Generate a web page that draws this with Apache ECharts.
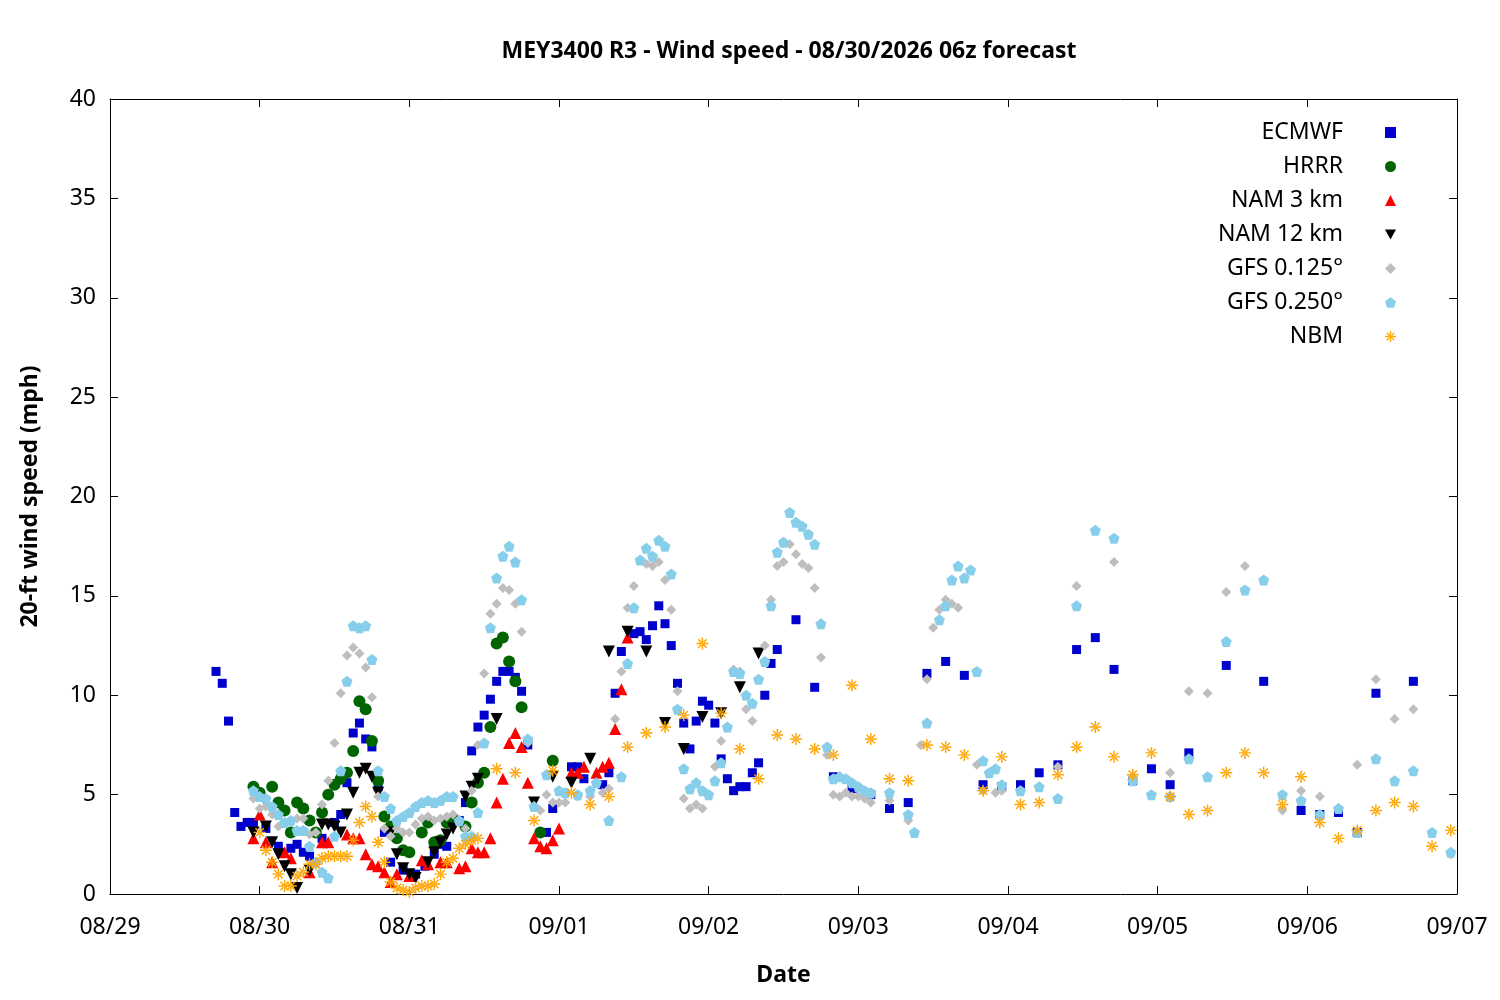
<!DOCTYPE html>
<html>
<head>
<meta charset="utf-8">
<script src="https://cdn.jsdelivr.net/npm/echarts@6/dist/echarts.min.js"></script>
<style>html,body{margin:0;padding:0;background:#fff}#main{width:1500px;height:1000px}</style>
</head>
<body>
<div id="main"></div>
<script>
// hours since 08/29 00z, wind speed (mph)
const dateLabels = ['08/29','08/30','08/31','09/01','09/02','09/03','09/04','09/05','09/06','09/07'];

const ecmwf = [[17,11.2],[18,10.6],[19,8.7],[20,4.1],[21,3.4],[22,3.6],[23,3.6],[25,3.3],[27,2.4],[29,2.3],[30,2.5],[31,2.1],[32,1.9],[34,2.8],[36,3.6],[37,4.0],[38,5.6],[39,8.1],[40,8.6],[41,7.8],[42,7.4],[43,5.4],[44,3.1],[45,1.6],[47,1.2],[49,1.0],[50.5,1.4],[52,2.0],[53,2.5],[54,2.4],[56,3.7],[57,4.6],[58,7.2],[59,8.4],[60,9.0],[61,9.8],[62,10.7],[63,11.2],[64,11.2],[65,10.9],[66,10.2],[67,7.5],[70,3.1],[71,4.3],[74,6.4],[75,6.4],[76,5.8],[79,5.5],[80,6.1],[81,10.1],[82,12.2],[84,13.1],[85,13.2],[86,12.8],[87,13.5],[88,14.5],[89,13.6],[90,12.5],[91,10.6],[92,8.6],[93,7.3],[94,8.7],[95,9.7],[96,9.5],[97,8.6],[98,6.8],[99,5.8],[100,5.2],[101,5.4],[102,5.4],[103,6.1],[104,6.6],[105,10.0],[106,11.6],[107,12.3],[110,13.8],[113,10.4],[116,5.9],[119,5.3],[122,5.0],[125,4.3],[128,4.6],[131,11.1],[134,11.7],[137,11.0],[140,5.5],[143,5.4],[146,5.5],[149,6.1],[152,6.5],[155,12.3],[158,12.9],[161,11.3],[164,5.7],[167,6.3],[170,5.5],[173,7.1],[179,11.5],[185,10.7],[191,4.2],[194,4.0],[197,4.1],[200,3.1],[203,10.1],[209,10.7]];

const hrrr = [[23,5.4],[24,5.1],[26,5.4],[27,4.6],[28,4.2],[29,3.1],[30,4.6],[31,4.3],[32,3.7],[33,3.1],[34,4.1],[35,5.0],[36,5.5],[37,5.8],[38,6.1],[39,7.2],[40,9.7],[41,9.3],[42,7.7],[43,5.7],[44,3.9],[45,3.4],[46,2.8],[47,2.2],[48,2.1],[50,3.1],[51,3.6],[52,2.6],[53,2.7],[54,3.6],[55,3.8],[57,3.4],[58,4.6],[59,5.6],[60,6.1],[61,8.4],[62,12.6],[63,12.9],[64,11.7],[65,10.7],[66,9.4],[69,3.1],[71,6.7]];

const nam3 = [[23,2.8],[24,4.0],[25,2.6],[26,1.6],[28,2.1],[29,1.8],[32,1.1],[34,2.6],[35,2.6],[38,3.0],[39,2.8],[40,2.8],[41,2.0],[42,1.5],[43,1.4],[44,1.1],[45,0.6],[46,1.0],[48,0.9],[50,1.7],[51,1.5],[53,1.6],[54,1.6],[56,1.3],[57,1.4],[58,2.3],[59,2.1],[60,2.1],[61,2.8],[62,4.6],[63,5.8],[64,7.6],[65,8.1],[66,7.4],[67,5.6],[68,2.8],[69,2.4],[70,2.3],[71,2.7],[72,3.3],[74,6.1],[75,6.1],[76,6.4],[78,6.1],[79,6.4],[80,6.6],[81,8.3],[82,10.3],[83,12.9]];

const nam12 = [[23,3.1],[25,3.4],[26,2.6],[27,2.0],[28,1.4],[29,1.0],[30,0.3],[32,1.2],[34,3.5],[35,3.5],[36,3.4],[37,3.1],[38,4.0],[39,5.1],[40,6.1],[41,6.3],[42,5.9],[43,5.1],[45,3.1],[46,2.0],[47,1.3],[48,1.0],[49,0.8],[51,1.6],[52,2.1],[53,2.6],[54,3.0],[55,3.3],[57,4.9],[58,5.4],[59,5.8],[62,8.8],[68,4.6],[71,5.9],[74,5.6],[77,6.8],[80,12.2],[83,13.2],[86,12.2],[89,8.6],[92,7.3],[95,8.9],[98,9.1],[101,10.4],[104,12.1]];

const gfs125 = [[23,4.8],[24,4.3],[25,4.4],[26,4.0],[27,3.4],[28,3.6],[30,3.8],[31,3.8],[32,3.0],[33,3.1],[34,4.5],[35,5.7],[36,7.6],[37,10.1],[38,12.0],[39,12.4],[40,12.1],[41,11.4],[42,9.9],[43,4.9],[44,3.3],[45,2.9],[46,3.3],[47,3.1],[48,3.1],[49,3.5],[50,3.8],[51,3.9],[52,3.7],[53,3.8],[54,3.9],[55,4.0],[56,3.6],[57,3.3],[58,5.2],[59,7.5],[60,11.1],[61,14.1],[62,14.6],[63,15.4],[64,15.3],[65,14.6],[66,13.2],[67,7.6],[69,4.2],[70,5.0],[71,4.6],[72,4.6],[73,4.6],[75,4.9],[77,4.9],[79,5.1],[80,5.3],[81,8.8],[82,11.2],[83,14.4],[84,15.5],[86,16.6],[87,16.5],[88,16.7],[89,15.8],[90,14.3],[91,10.2],[92,4.8],[93,4.3],[94,4.5],[95,4.3],[97,6.4],[98,7.7],[99,8.4],[100,11.3],[101,11.2],[102,9.3],[103,8.7],[105,12.5],[106,14.8],[107,16.5],[108,16.7],[109,17.6],[110,17.1],[111,16.6],[112,16.4],[113,15.4],[114,11.9],[115,7.0],[116,5.0],[117,4.9],[118,5.1],[119,4.9],[120,4.9],[121,4.8],[122,4.6],[125,4.7],[128,3.7],[130,7.5],[131,10.8],[132,13.4],[133,14.3],[134,14.8],[135,14.6],[136,14.4],[139,6.5],[140,5.2],[142,5.1],[143,5.2],[152,6.4],[155,15.5],[161,16.7],[164,5.9],[170,6.1],[173,10.2],[176,10.1],[179,15.2],[182,16.5],[188,4.2],[191,5.2],[194,4.9],[197,4.3],[200,6.5],[203,10.8],[206,8.8],[209,9.3],[215,2.0]];

const gfs250 = [[23,5.2],[24,4.9],[25,4.8],[26,4.4],[27,4.0],[28,3.6],[29,3.7],[30,3.2],[31,3.2],[32,2.4],[33,1.6],[34,1.1],[35,0.8],[36,2.9],[37,6.2],[38,10.7],[39,13.5],[40,13.4],[41,13.5],[42,11.8],[43,6.2],[44,4.9],[45,4.3],[46,3.7],[47,3.9],[48,4.1],[49,4.4],[50,4.6],[51,4.7],[52,4.6],[53,4.7],[54,4.9],[55,4.9],[56,3.7],[57,2.9],[58,2.9],[59,4.1],[60,7.6],[61,13.4],[62,15.9],[63,17.0],[64,17.5],[65,16.7],[66,14.8],[67,7.8],[68,4.4],[70,6.0],[72,5.2],[73,5.1],[75,5.0],[77,5.2],[78,5.6],[80,3.7],[82,5.9],[83,11.6],[84,14.4],[85,16.8],[86,17.4],[87,17.0],[88,17.8],[89,17.5],[90,16.1],[91,9.3],[92,6.3],[93,5.3],[94,5.6],[95,5.2],[96,5.0],[97,5.7],[98,6.6],[99,8.4],[100,11.2],[101,11.1],[102,10.0],[103,9.6],[104,10.8],[105,11.7],[106,14.5],[107,17.2],[108,17.7],[109,19.2],[110,18.7],[111,18.5],[112,18.1],[113,17.6],[114,13.6],[115,7.4],[116,5.8],[117,5.9],[118,5.8],[119,5.6],[120,5.4],[121,5.2],[122,5.1],[125,5.1],[128,4.0],[129,3.1],[131,8.6],[133,13.8],[134,14.5],[135,15.8],[136,16.5],[137,15.9],[138,16.3],[139,11.2],[140,6.7],[141,6.1],[142,6.3],[143,5.5],[146,5.2],[149,5.4],[152,4.8],[155,14.5],[158,18.3],[161,17.9],[164,5.7],[167,5.0],[170,4.9],[173,6.8],[176,5.9],[179,12.7],[182,15.3],[185,15.8],[188,5.0],[191,4.7],[194,4.0],[197,4.3],[200,3.1],[203,6.8],[206,5.7],[209,6.2],[212,3.1],[215,2.1]];

const nbm = [[24,3.1],[25,2.2],[26,1.6],[27,1.0],[28,0.4],[29,0.4],[30,0.9],[31,1.1],[32,1.5],[33,1.5],[34,1.8],[35,1.9],[36,1.9],[37,1.9],[38,1.9],[39,2.7],[40,3.6],[41,4.4],[42,3.9],[43,2.6],[44,1.6],[45,0.6],[46,0.3],[47,0.2],[48,0.1],[49,0.3],[50,0.4],[51,0.4],[52,0.5],[53,1.0],[54,1.6],[55,1.8],[56,2.3],[57,2.5],[58,2.7],[59,2.8],[62,6.3],[65,6.1],[68,3.7],[71,6.2],[74,5.1],[77,4.5],[80,4.9],[83,7.4],[86,8.1],[89,8.4],[92,9.0],[95,12.6],[98,9.1],[101,7.3],[104,5.8],[107,8.0],[110,7.8],[113,7.3],[116,7.0],[119,10.5],[122,7.8],[125,5.8],[128,5.7],[131,7.5],[134,7.4],[137,7.0],[140,5.2],[143,6.9],[146,4.5],[149,4.6],[152,6.0],[155,7.4],[158,8.4],[161,6.9],[164,6.0],[167,7.1],[170,4.9],[173,4.0],[176,4.2],[179,6.1],[182,7.1],[185,6.1],[188,4.5],[191,5.9],[194,3.6],[197,2.8],[200,3.2],[203,4.2],[206,4.6],[209,4.4],[212,2.4],[215,3.2]];

const pentagon = 'path://M0,-1 L0.951,-0.309 L0.588,0.809 L-0.588,0.809 L-0.951,-0.309 Z';
const asterisk = 'path://M-0.6,-5 h1.2 v10 h-1.2 Z M-5,-0.6 h10 v1.2 h-10 Z M-3.08,-3.92 L3.92,3.08 L3.08,3.92 L-3.92,-3.08 Z M3.92,-3.08 L3.08,-3.92 L-3.92,3.08 L-3.08,3.92 Z';

const font = 'Noto Sans';
const chart = echarts.init(document.getElementById('main'));

function sc(name, data, color, symbol, size, rotate) {
  return {
    name, type: 'scatter', data, symbol, symbolSize: size,
    symbolRotate: rotate || 0,
    itemStyle: { color, opacity: 1 },
    silent: true
  };
}

function axis(extra) {
  return Object.assign({
    axisLine: { show: true, onZero: false, lineStyle: { color: '#000', width: 1 } },
    axisTick: { show: true, inside: true, length: 8, lineStyle: { color: '#000' } },
    splitLine: { show: false }
  }, extra);
}

const labelStyle = { fontFamily: font, fontSize: 23, color: '#000' };
const nameStyle = { fontFamily: font, fontSize: 23, fontWeight: 'bold', color: '#000' };

chart.setOption({
  animation: false,
  backgroundColor: '#fff',
  title: {
    text: 'MEY3400 R3 - Wind speed - 08/30/2026 06z forecast',
    left: 784, top: 35, textAlign: 'center',
    textStyle: { fontFamily: font, fontSize: 23, fontWeight: 'bold', color: '#000' }
  },
  grid: { left: 110, right: 43, top: 99, bottom: 106 },
  legend: {
    orient: 'vertical', right: 99, top: 116, align: 'right',
    itemGap: 11, itemWidth: 11, itemHeight: 11,
    textStyle: { fontFamily: font, fontSize: 23, color: '#000', lineHeight: 22, padding: [0, 37, 0, 0] },
    data: [
      { name: 'ECMWF', icon: 'rect' },
      { name: 'HRRR', icon: 'circle' },
      { name: 'NAM 3 km', icon: 'triangle' },
      { name: 'NAM 12 km', icon: 'path://M-1,-0.8 L1,-0.8 L0,1 Z' },
      { name: 'GFS 0.125°', icon: 'diamond' },
      { name: 'GFS 0.250°', icon: pentagon },
      { name: 'NBM', icon: asterisk }
    ]
  },
  xAxis: [
    axis({
      type: 'value', min: 0, max: 216, interval: 24, position: 'bottom',
      name: 'Date', nameLocation: 'middle', nameGap: 70, nameTextStyle: nameStyle,
      axisLabel: Object.assign({ margin: 22, formatter: v => dateLabels[Math.round(v / 24)] }, labelStyle)
    }),
    axis({ type: 'value', min: 0, max: 216, interval: 24, position: 'top', axisLabel: { show: false } })
  ],
  yAxis: [
    axis({
      type: 'value', min: 0, max: 40, interval: 5, position: 'left',
      name: '20-ft wind speed (mph)', nameLocation: 'middle', nameGap: 68, nameTextStyle: nameStyle,
      axisLabel: Object.assign({ margin: 14 }, labelStyle)
    }),
    axis({ type: 'value', min: 0, max: 40, interval: 5, position: 'right', axisLabel: { show: false } })
  ],
  series: [
    sc('ECMWF', ecmwf, '#0000cc', 'rect', 9),
    sc('HRRR', hrrr, '#006400', 'circle', 12),
    sc('NAM 3 km', nam3, '#ff0000', 'triangle', 12),
    sc('NAM 12 km', nam12, '#000000', 'triangle', 12, 180),
    sc('GFS 0.125°', gfs125, '#bebebe', 'diamond', 10),
    sc('GFS 0.250°', gfs250, '#87ceeb', pentagon, 11),
    sc('NBM', nbm, '#ffa500', asterisk, 12)
  ]
});
</script>
</body>
</html>
